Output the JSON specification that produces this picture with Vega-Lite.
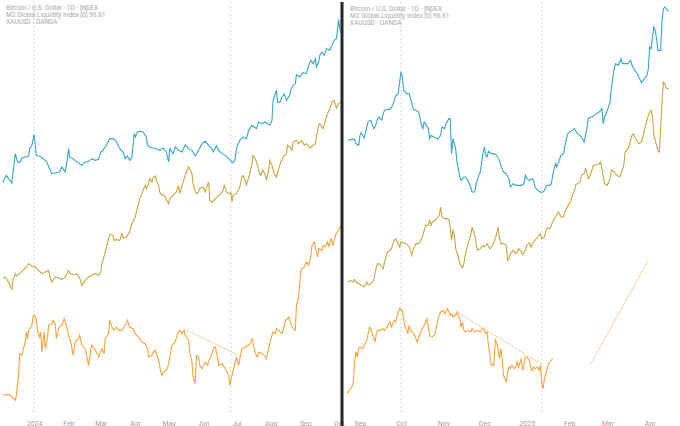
{
"$schema": "https://vega.github.io/schema/vega-lite/v6.json",
"padding": 0,
"background": "white",
"spacing": 0,
"config": {"view": {"stroke": null}, "font": "Roboto"},
"datasets": {
"leftGrid": [{"d":"2024-01-01"},{"d":"2024-06-26"}],
"rightGrid": [{"d":"2024-10-01"},{"d":"2025-01-12"}],
"leftTrend": [{"d":"2024-05-16","v":233,"d2":"2024-07-04","v2":153}],
"rightTrend": [{"d":"2024-11-11","v":285,"d2":"2025-01-12","v2":128},{"d":"2025-02-17","v":130,"d2":"2025-03-31","v2":440}],
"divider": [{"d":"2024-10-04"}],
"left": [
{"d":"2023-12-04","s":"M2","v":675},{"d":"2023-12-07","s":"M2","v":695},{"d":"2023-12-09","s":"M2","v":685},{"d":"2023-12-12","s":"M2","v":672},{"d":"2023-12-15","s":"M2","v":760},{"d":"2023-12-17","s":"M2","v":737},{"d":"2023-12-19","s":"M2","v":733},{"d":"2023-12-21","s":"M2","v":747},{"d":"2023-12-24","s":"M2","v":750},{"d":"2023-12-27","s":"M2","v":753},{"d":"2023-12-28","s":"M2","v":775},{"d":"2023-12-30","s":"M2","v":785},{"d":"2024-01-01","s":"M2","v":817},{"d":"2024-01-03","s":"M2","v":755},{"d":"2024-01-06","s":"M2","v":752},{"d":"2024-01-09","s":"M2","v":745},{"d":"2024-01-12","s":"M2","v":737},{"d":"2024-01-15","s":"M2","v":715},{"d":"2024-01-17","s":"M2","v":700},{"d":"2024-01-21","s":"M2","v":703},{"d":"2024-01-24","s":"M2","v":705},{"d":"2024-01-26","s":"M2","v":720},{"d":"2024-01-29","s":"M2","v":705},{"d":"2024-01-31","s":"M2","v":745},{"d":"2024-02-01","s":"M2","v":775},{"d":"2024-02-02","s":"M2","v":750},{"d":"2024-02-05","s":"M2","v":745},{"d":"2024-02-08","s":"M2","v":737},{"d":"2024-02-13","s":"M2","v":725},{"d":"2024-02-16","s":"M2","v":735},{"d":"2024-02-19","s":"M2","v":737},{"d":"2024-02-22","s":"M2","v":745},{"d":"2024-02-25","s":"M2","v":740},{"d":"2024-02-28","s":"M2","v":743},{"d":"2024-03-01","s":"M2","v":765},{"d":"2024-03-03","s":"M2","v":770},{"d":"2024-03-06","s":"M2","v":785},{"d":"2024-03-09","s":"M2","v":805},{"d":"2024-03-12","s":"M2","v":805},{"d":"2024-03-15","s":"M2","v":797},{"d":"2024-03-18","s":"M2","v":775},{"d":"2024-03-21","s":"M2","v":765},{"d":"2024-03-23","s":"M2","v":745},{"d":"2024-03-25","s":"M2","v":753},{"d":"2024-03-27","s":"M2","v":740},{"d":"2024-03-29","s":"M2","v":750},{"d":"2024-03-31","s":"M2","v":820},{"d":"2024-04-01","s":"M2","v":810},{"d":"2024-04-03","s":"M2","v":825},{"d":"2024-04-05","s":"M2","v":827},{"d":"2024-04-08","s":"M2","v":825},{"d":"2024-04-11","s":"M2","v":810},{"d":"2024-04-12","s":"M2","v":785},{"d":"2024-04-14","s":"M2","v":780},{"d":"2024-04-17","s":"M2","v":777},{"d":"2024-04-20","s":"M2","v":775},{"d":"2024-04-23","s":"M2","v":770},{"d":"2024-04-26","s":"M2","v":777},{"d":"2024-04-29","s":"M2","v":765},{"d":"2024-05-01","s":"M2","v":735},{"d":"2024-05-02","s":"M2","v":775},{"d":"2024-05-05","s":"M2","v":760},{"d":"2024-05-07","s":"M2","v":780},{"d":"2024-05-10","s":"M2","v":770},{"d":"2024-05-13","s":"M2","v":765},{"d":"2024-05-16","s":"M2","v":787},{"d":"2024-05-19","s":"M2","v":775},{"d":"2024-05-22","s":"M2","v":770},{"d":"2024-05-25","s":"M2","v":753},{"d":"2024-05-28","s":"M2","v":770},{"d":"2024-05-31","s":"M2","v":790},{"d":"2024-06-03","s":"M2","v":797},{"d":"2024-06-06","s":"M2","v":785},{"d":"2024-06-09","s":"M2","v":775},{"d":"2024-06-10","s":"M2","v":765},{"d":"2024-06-13","s":"M2","v":783},{"d":"2024-06-15","s":"M2","v":770},{"d":"2024-06-18","s":"M2","v":760},{"d":"2024-06-21","s":"M2","v":755},{"d":"2024-06-24","s":"M2","v":745},{"d":"2024-06-27","s":"M2","v":735},{"d":"2024-06-28","s":"M2","v":733},{"d":"2024-06-30","s":"M2","v":745},{"d":"2024-07-01","s":"M2","v":775},{"d":"2024-07-04","s":"M2","v":800},{"d":"2024-07-07","s":"M2","v":810},{"d":"2024-07-10","s":"M2","v":805},{"d":"2024-07-12","s":"M2","v":830},{"d":"2024-07-15","s":"M2","v":845},{"d":"2024-07-17","s":"M2","v":840},{"d":"2024-07-19","s":"M2","v":835},{"d":"2024-07-21","s":"M2","v":855},{"d":"2024-07-24","s":"M2","v":850},{"d":"2024-07-27","s":"M2","v":855},{"d":"2024-07-30","s":"M2","v":847},{"d":"2024-07-31","s":"M2","v":845},{"d":"2024-08-02","s":"M2","v":860},{"d":"2024-08-03","s":"M2","v":920},{"d":"2024-08-06","s":"M2","v":950},{"d":"2024-08-07","s":"M2","v":915},{"d":"2024-08-09","s":"M2","v":913},{"d":"2024-08-11","s":"M2","v":930},{"d":"2024-08-13","s":"M2","v":940},{"d":"2024-08-15","s":"M2","v":920},{"d":"2024-08-18","s":"M2","v":935},{"d":"2024-08-19","s":"M2","v":953},{"d":"2024-08-21","s":"M2","v":965},{"d":"2024-08-23","s":"M2","v":970},{"d":"2024-08-24","s":"M2","v":997},{"d":"2024-08-27","s":"M2","v":990},{"d":"2024-08-30","s":"M2","v":1003},{"d":"2024-09-02","s":"M2","v":1000},{"d":"2024-09-04","s":"M2","v":1025},{"d":"2024-09-06","s":"M2","v":1040},{"d":"2024-09-08","s":"M2","v":1030},{"d":"2024-09-10","s":"M2","v":1045},{"d":"2024-09-11","s":"M2","v":1020},{"d":"2024-09-13","s":"M2","v":1035},{"d":"2024-09-14","s":"M2","v":1055},{"d":"2024-09-16","s":"M2","v":1065},{"d":"2024-09-18","s":"M2","v":1055},{"d":"2024-09-20","s":"M2","v":1075},{"d":"2024-09-23","s":"M2","v":1070},{"d":"2024-09-25","s":"M2","v":1085},{"d":"2024-09-27","s":"M2","v":1100},{"d":"2024-09-29","s":"M2","v":1105},{"d":"2024-10-01","s":"M2","v":1163},{"d":"2024-10-02","s":"M2","v":1135},{"d":"2024-10-04","s":"M2","v":1115},
{"d":"2023-12-04","s":"XAU","v":385},{"d":"2023-12-06","s":"XAU","v":390},{"d":"2023-12-09","s":"XAU","v":375},{"d":"2023-12-12","s":"XAU","v":353},{"d":"2023-12-13","s":"XAU","v":380},{"d":"2023-12-15","s":"XAU","v":400},{"d":"2023-12-16","s":"XAU","v":393},{"d":"2023-12-19","s":"XAU","v":400},{"d":"2023-12-22","s":"XAU","v":410},{"d":"2023-12-25","s":"XAU","v":420},{"d":"2023-12-27","s":"XAU","v":430},{"d":"2023-12-30","s":"XAU","v":423},{"d":"2024-01-02","s":"XAU","v":420},{"d":"2024-01-05","s":"XAU","v":410},{"d":"2024-01-08","s":"XAU","v":400},{"d":"2024-01-11","s":"XAU","v":405},{"d":"2024-01-14","s":"XAU","v":410},{"d":"2024-01-15","s":"XAU","v":393},{"d":"2024-01-17","s":"XAU","v":375},{"d":"2024-01-20","s":"XAU","v":390},{"d":"2024-01-23","s":"XAU","v":387},{"d":"2024-01-26","s":"XAU","v":383},{"d":"2024-01-29","s":"XAU","v":390},{"d":"2024-02-01","s":"XAU","v":410},{"d":"2024-02-02","s":"XAU","v":400},{"d":"2024-02-05","s":"XAU","v":397},{"d":"2024-02-08","s":"XAU","v":400},{"d":"2024-02-11","s":"XAU","v":387},{"d":"2024-02-13","s":"XAU","v":365},{"d":"2024-02-16","s":"XAU","v":380},{"d":"2024-02-19","s":"XAU","v":390},{"d":"2024-02-22","s":"XAU","v":395},{"d":"2024-02-25","s":"XAU","v":400},{"d":"2024-02-28","s":"XAU","v":395},{"d":"2024-03-01","s":"XAU","v":405},{"d":"2024-03-02","s":"XAU","v":430},{"d":"2024-03-05","s":"XAU","v":465},{"d":"2024-03-08","s":"XAU","v":505},{"d":"2024-03-09","s":"XAU","v":518},{"d":"2024-03-12","s":"XAU","v":515},{"d":"2024-03-13","s":"XAU","v":500},{"d":"2024-03-15","s":"XAU","v":502},{"d":"2024-03-18","s":"XAU","v":500},{"d":"2024-03-20","s":"XAU","v":520},{"d":"2024-03-21","s":"XAU","v":507},{"d":"2024-03-24","s":"XAU","v":510},{"d":"2024-03-27","s":"XAU","v":525},{"d":"2024-03-29","s":"XAU","v":550},{"d":"2024-04-01","s":"XAU","v":570},{"d":"2024-04-02","s":"XAU","v":585},{"d":"2024-04-04","s":"XAU","v":610},{"d":"2024-04-05","s":"XAU","v":625},{"d":"2024-04-07","s":"XAU","v":640},{"d":"2024-04-08","s":"XAU","v":650},{"d":"2024-04-10","s":"XAU","v":665},{"d":"2024-04-11","s":"XAU","v":655},{"d":"2024-04-13","s":"XAU","v":670},{"d":"2024-04-14","s":"XAU","v":685},{"d":"2024-04-16","s":"XAU","v":675},{"d":"2024-04-17","s":"XAU","v":687},{"d":"2024-04-19","s":"XAU","v":693},{"d":"2024-04-20","s":"XAU","v":680},{"d":"2024-04-22","s":"XAU","v":665},{"d":"2024-04-23","s":"XAU","v":645},{"d":"2024-04-25","s":"XAU","v":635},{"d":"2024-04-26","s":"XAU","v":637},{"d":"2024-04-28","s":"XAU","v":630},{"d":"2024-04-29","s":"XAU","v":620},{"d":"2024-05-01","s":"XAU","v":610},{"d":"2024-05-02","s":"XAU","v":625},{"d":"2024-05-05","s":"XAU","v":635},{"d":"2024-05-08","s":"XAU","v":645},{"d":"2024-05-10","s":"XAU","v":665},{"d":"2024-05-11","s":"XAU","v":640},{"d":"2024-05-14","s":"XAU","v":675},{"d":"2024-05-17","s":"XAU","v":705},{"d":"2024-05-19","s":"XAU","v":720},{"d":"2024-05-20","s":"XAU","v":715},{"d":"2024-05-22","s":"XAU","v":700},{"d":"2024-05-23","s":"XAU","v":670},{"d":"2024-05-25","s":"XAU","v":645},{"d":"2024-05-27","s":"XAU","v":640},{"d":"2024-05-29","s":"XAU","v":655},{"d":"2024-06-01","s":"XAU","v":660},{"d":"2024-06-03","s":"XAU","v":645},{"d":"2024-06-05","s":"XAU","v":667},{"d":"2024-06-06","s":"XAU","v":675},{"d":"2024-06-07","s":"XAU","v":620},{"d":"2024-06-09","s":"XAU","v":613},{"d":"2024-06-12","s":"XAU","v":625},{"d":"2024-06-15","s":"XAU","v":635},{"d":"2024-06-18","s":"XAU","v":643},{"d":"2024-06-19","s":"XAU","v":650},{"d":"2024-06-20","s":"XAU","v":665},{"d":"2024-06-22","s":"XAU","v":645},{"d":"2024-06-24","s":"XAU","v":640},{"d":"2024-06-26","s":"XAU","v":643},{"d":"2024-06-27","s":"XAU","v":615},{"d":"2024-06-28","s":"XAU","v":635},{"d":"2024-07-01","s":"XAU","v":640},{"d":"2024-07-04","s":"XAU","v":660},{"d":"2024-07-06","s":"XAU","v":690},{"d":"2024-07-07","s":"XAU","v":695},{"d":"2024-07-09","s":"XAU","v":680},{"d":"2024-07-10","s":"XAU","v":665},{"d":"2024-07-13","s":"XAU","v":700},{"d":"2024-07-14","s":"XAU","v":715},{"d":"2024-07-15","s":"XAU","v":730},{"d":"2024-07-16","s":"XAU","v":755},{"d":"2024-07-18","s":"XAU","v":745},{"d":"2024-07-20","s":"XAU","v":725},{"d":"2024-07-22","s":"XAU","v":700},{"d":"2024-07-23","s":"XAU","v":695},{"d":"2024-07-25","s":"XAU","v":710},{"d":"2024-07-27","s":"XAU","v":695},{"d":"2024-07-28","s":"XAU","v":680},{"d":"2024-07-30","s":"XAU","v":710},{"d":"2024-07-31","s":"XAU","v":740},{"d":"2024-08-02","s":"XAU","v":725},{"d":"2024-08-04","s":"XAU","v":700},{"d":"2024-08-06","s":"XAU","v":690},{"d":"2024-08-08","s":"XAU","v":715},{"d":"2024-08-10","s":"XAU","v":735},{"d":"2024-08-12","s":"XAU","v":750},{"d":"2024-08-15","s":"XAU","v":760},{"d":"2024-08-16","s":"XAU","v":785},{"d":"2024-08-18","s":"XAU","v":780},{"d":"2024-08-20","s":"XAU","v":770},{"d":"2024-08-21","s":"XAU","v":795},{"d":"2024-08-24","s":"XAU","v":800},{"d":"2024-08-26","s":"XAU","v":790},{"d":"2024-08-29","s":"XAU","v":800},{"d":"2024-08-31","s":"XAU","v":785},{"d":"2024-09-02","s":"XAU","v":790},{"d":"2024-09-05","s":"XAU","v":777},{"d":"2024-09-07","s":"XAU","v":783},{"d":"2024-09-10","s":"XAU","v":790},{"d":"2024-09-11","s":"XAU","v":810},{"d":"2024-09-13","s":"XAU","v":845},{"d":"2024-09-14","s":"XAU","v":850},{"d":"2024-09-17","s":"XAU","v":835},{"d":"2024-09-19","s":"XAU","v":860},{"d":"2024-09-21","s":"XAU","v":880},{"d":"2024-09-23","s":"XAU","v":895},{"d":"2024-09-25","s":"XAU","v":915},{"d":"2024-09-27","s":"XAU","v":920},{"d":"2024-09-29","s":"XAU","v":897},{"d":"2024-10-01","s":"XAU","v":910},{"d":"2024-10-03","s":"XAU","v":915},
{"d":"2023-12-04","s":"BTC","v":35},{"d":"2023-12-07","s":"BTC","v":37},{"d":"2023-12-10","s":"BTC","v":37},{"d":"2023-12-12","s":"BTC","v":30},{"d":"2023-12-15","s":"BTC","v":20},{"d":"2023-12-16","s":"BTC","v":35},{"d":"2023-12-18","s":"BTC","v":95},{"d":"2023-12-19","s":"BTC","v":160},{"d":"2023-12-21","s":"BTC","v":155},{"d":"2023-12-22","s":"BTC","v":170},{"d":"2023-12-24","s":"BTC","v":195},{"d":"2023-12-25","s":"BTC","v":225},{"d":"2023-12-26","s":"BTC","v":205},{"d":"2023-12-27","s":"BTC","v":230},{"d":"2023-12-30","s":"BTC","v":245},{"d":"2023-12-31","s":"BTC","v":270},{"d":"2024-01-01","s":"BTC","v":275},{"d":"2024-01-03","s":"BTC","v":265},{"d":"2024-01-04","s":"BTC","v":230},{"d":"2024-01-06","s":"BTC","v":210},{"d":"2024-01-07","s":"BTC","v":225},{"d":"2024-01-08","s":"BTC","v":165},{"d":"2024-01-10","s":"BTC","v":225},{"d":"2024-01-11","s":"BTC","v":175},{"d":"2024-01-13","s":"BTC","v":205},{"d":"2024-01-14","s":"BTC","v":245},{"d":"2024-01-17","s":"BTC","v":250},{"d":"2024-01-18","s":"BTC","v":260},{"d":"2024-01-20","s":"BTC","v":250},{"d":"2024-01-21","s":"BTC","v":205},{"d":"2024-01-23","s":"BTC","v":235},{"d":"2024-01-24","s":"BTC","v":240},{"d":"2024-01-26","s":"BTC","v":245},{"d":"2024-01-28","s":"BTC","v":265},{"d":"2024-01-30","s":"BTC","v":245},{"d":"2024-02-01","s":"BTC","v":215},{"d":"2024-02-03","s":"BTC","v":195},{"d":"2024-02-05","s":"BTC","v":155},{"d":"2024-02-07","s":"BTC","v":195},{"d":"2024-02-10","s":"BTC","v":205},{"d":"2024-02-11","s":"BTC","v":215},{"d":"2024-02-13","s":"BTC","v":185},{"d":"2024-02-16","s":"BTC","v":175},{"d":"2024-02-19","s":"BTC","v":125},{"d":"2024-02-21","s":"BTC","v":175},{"d":"2024-02-22","s":"BTC","v":185},{"d":"2024-02-25","s":"BTC","v":170},{"d":"2024-02-27","s":"BTC","v":160},{"d":"2024-02-28","s":"BTC","v":150},{"d":"2024-03-02","s":"BTC","v":175},{"d":"2024-03-04","s":"BTC","v":160},{"d":"2024-03-05","s":"BTC","v":205},{"d":"2024-03-08","s":"BTC","v":220},{"d":"2024-03-09","s":"BTC","v":260},{"d":"2024-03-11","s":"BTC","v":240},{"d":"2024-03-13","s":"BTC","v":230},{"d":"2024-03-15","s":"BTC","v":240},{"d":"2024-03-17","s":"BTC","v":230},{"d":"2024-03-20","s":"BTC","v":230},{"d":"2024-03-23","s":"BTC","v":245},{"d":"2024-03-25","s":"BTC","v":260},{"d":"2024-03-27","s":"BTC","v":240},{"d":"2024-03-30","s":"BTC","v":235},{"d":"2024-04-01","s":"BTC","v":220},{"d":"2024-04-04","s":"BTC","v":210},{"d":"2024-04-07","s":"BTC","v":195},{"d":"2024-04-10","s":"BTC","v":190},{"d":"2024-04-12","s":"BTC","v":175},{"d":"2024-04-13","s":"BTC","v":150},{"d":"2024-04-16","s":"BTC","v":155},{"d":"2024-04-18","s":"BTC","v":170},{"d":"2024-04-19","s":"BTC","v":170},{"d":"2024-04-22","s":"BTC","v":140},{"d":"2024-04-24","s":"BTC","v":105},{"d":"2024-04-25","s":"BTC","v":95},{"d":"2024-04-28","s":"BTC","v":110},{"d":"2024-04-30","s":"BTC","v":115},{"d":"2024-05-02","s":"BTC","v":150},{"d":"2024-05-04","s":"BTC","v":185},{"d":"2024-05-07","s":"BTC","v":195},{"d":"2024-05-09","s":"BTC","v":220},{"d":"2024-05-11","s":"BTC","v":230},{"d":"2024-05-13","s":"BTC","v":220},{"d":"2024-05-15","s":"BTC","v":230},{"d":"2024-05-16","s":"BTC","v":215},{"d":"2024-05-19","s":"BTC","v":200},{"d":"2024-05-20","s":"BTC","v":165},{"d":"2024-05-22","s":"BTC","v":135},{"d":"2024-05-23","s":"BTC","v":90},{"d":"2024-05-25","s":"BTC","v":70},{"d":"2024-05-26","s":"BTC","v":155},{"d":"2024-05-28","s":"BTC","v":150},{"d":"2024-05-29","s":"BTC","v":125},{"d":"2024-05-31","s":"BTC","v":115},{"d":"2024-06-03","s":"BTC","v":135},{"d":"2024-06-05","s":"BTC","v":125},{"d":"2024-06-06","s":"BTC","v":135},{"d":"2024-06-09","s":"BTC","v":160},{"d":"2024-06-11","s":"BTC","v":180},{"d":"2024-06-12","s":"BTC","v":180},{"d":"2024-06-14","s":"BTC","v":150},{"d":"2024-06-15","s":"BTC","v":125},{"d":"2024-06-18","s":"BTC","v":130},{"d":"2024-06-19","s":"BTC","v":125},{"d":"2024-06-21","s":"BTC","v":115},{"d":"2024-06-24","s":"BTC","v":95},{"d":"2024-06-25","s":"BTC","v":65},{"d":"2024-06-27","s":"BTC","v":95},{"d":"2024-06-30","s":"BTC","v":135},{"d":"2024-07-01","s":"BTC","v":150},{"d":"2024-07-03","s":"BTC","v":125},{"d":"2024-07-05","s":"BTC","v":160},{"d":"2024-07-06","s":"BTC","v":175},{"d":"2024-07-09","s":"BTC","v":180},{"d":"2024-07-12","s":"BTC","v":185},{"d":"2024-07-14","s":"BTC","v":195},{"d":"2024-07-15","s":"BTC","v":205},{"d":"2024-07-18","s":"BTC","v":160},{"d":"2024-07-20","s":"BTC","v":150},{"d":"2024-07-21","s":"BTC","v":165},{"d":"2024-07-24","s":"BTC","v":160},{"d":"2024-07-26","s":"BTC","v":155},{"d":"2024-07-28","s":"BTC","v":145},{"d":"2024-07-30","s":"BTC","v":175},{"d":"2024-08-01","s":"BTC","v":205},{"d":"2024-08-03","s":"BTC","v":225},{"d":"2024-08-05","s":"BTC","v":220},{"d":"2024-08-06","s":"BTC","v":235},{"d":"2024-08-08","s":"BTC","v":230},{"d":"2024-08-11","s":"BTC","v":220},{"d":"2024-08-13","s":"BTC","v":240},{"d":"2024-08-14","s":"BTC","v":260},{"d":"2024-08-17","s":"BTC","v":270},{"d":"2024-08-19","s":"BTC","v":250},{"d":"2024-08-21","s":"BTC","v":235},{"d":"2024-08-23","s":"BTC","v":230},{"d":"2024-08-24","s":"BTC","v":305},{"d":"2024-08-26","s":"BTC","v":330},{"d":"2024-08-28","s":"BTC","v":410},{"d":"2024-08-29","s":"BTC","v":415},{"d":"2024-08-31","s":"BTC","v":420},{"d":"2024-09-02","s":"BTC","v":435},{"d":"2024-09-04","s":"BTC","v":425},{"d":"2024-09-06","s":"BTC","v":455},{"d":"2024-09-07","s":"BTC","v":485},{"d":"2024-09-09","s":"BTC","v":495},{"d":"2024-09-10","s":"BTC","v":480},{"d":"2024-09-12","s":"BTC","v":450},{"d":"2024-09-13","s":"BTC","v":475},{"d":"2024-09-16","s":"BTC","v":470},{"d":"2024-09-17","s":"BTC","v":485},{"d":"2024-09-19","s":"BTC","v":480},{"d":"2024-09-21","s":"BTC","v":495},{"d":"2024-09-22","s":"BTC","v":480},{"d":"2024-09-24","s":"BTC","v":505},{"d":"2024-09-26","s":"BTC","v":485},{"d":"2024-09-28","s":"BTC","v":515},{"d":"2024-10-01","s":"BTC","v":530},{"d":"2024-10-03","s":"BTC","v":545}
],
"right": [
{"d":"2024-08-23","s":"M2","v":800},{"d":"2024-08-26","s":"M2","v":803},{"d":"2024-08-28","s":"M2","v":803},{"d":"2024-08-29","s":"M2","v":790},{"d":"2024-08-31","s":"M2","v":785},{"d":"2024-09-01","s":"M2","v":815},{"d":"2024-09-02","s":"M2","v":823},{"d":"2024-09-04","s":"M2","v":807},{"d":"2024-09-06","s":"M2","v":840},{"d":"2024-09-07","s":"M2","v":857},{"d":"2024-09-09","s":"M2","v":860},{"d":"2024-09-11","s":"M2","v":835},{"d":"2024-09-12","s":"M2","v":840},{"d":"2024-09-14","s":"M2","v":865},{"d":"2024-09-15","s":"M2","v":870},{"d":"2024-09-17","s":"M2","v":860},{"d":"2024-09-18","s":"M2","v":880},{"d":"2024-09-19","s":"M2","v":890},{"d":"2024-09-21","s":"M2","v":893},{"d":"2024-09-23","s":"M2","v":893},{"d":"2024-09-25","s":"M2","v":905},{"d":"2024-09-26","s":"M2","v":920},{"d":"2024-09-27","s":"M2","v":933},{"d":"2024-09-29","s":"M2","v":940},{"d":"2024-09-30","s":"M2","v":975},{"d":"2024-10-01","s":"M2","v":1005},{"d":"2024-10-02","s":"M2","v":990},{"d":"2024-10-03","s":"M2","v":950},{"d":"2024-10-04","s":"M2","v":945},{"d":"2024-10-05","s":"M2","v":940},{"d":"2024-10-07","s":"M2","v":940},{"d":"2024-10-08","s":"M2","v":925},{"d":"2024-10-10","s":"M2","v":893},{"d":"2024-10-12","s":"M2","v":890},{"d":"2024-10-14","s":"M2","v":885},{"d":"2024-10-16","s":"M2","v":845},{"d":"2024-10-17","s":"M2","v":835},{"d":"2024-10-18","s":"M2","v":855},{"d":"2024-10-19","s":"M2","v":850},{"d":"2024-10-21","s":"M2","v":835},{"d":"2024-10-22","s":"M2","v":805},{"d":"2024-10-23","s":"M2","v":815},{"d":"2024-10-25","s":"M2","v":810},{"d":"2024-10-27","s":"M2","v":807},{"d":"2024-10-28","s":"M2","v":803},{"d":"2024-10-30","s":"M2","v":815},{"d":"2024-10-31","s":"M2","v":840},{"d":"2024-11-02","s":"M2","v":835},{"d":"2024-11-03","s":"M2","v":850},{"d":"2024-11-05","s":"M2","v":865},{"d":"2024-11-06","s":"M2","v":865},{"d":"2024-11-07","s":"M2","v":760},{"d":"2024-11-08","s":"M2","v":805},{"d":"2024-11-09","s":"M2","v":790},{"d":"2024-11-10","s":"M2","v":775},{"d":"2024-11-11","s":"M2","v":735},{"d":"2024-11-13","s":"M2","v":690},{"d":"2024-11-14","s":"M2","v":680},{"d":"2024-11-16","s":"M2","v":690},{"d":"2024-11-17","s":"M2","v":690},{"d":"2024-11-19","s":"M2","v":680},{"d":"2024-11-21","s":"M2","v":660},{"d":"2024-11-22","s":"M2","v":645},{"d":"2024-11-24","s":"M2","v":645},{"d":"2024-11-25","s":"M2","v":670},{"d":"2024-11-27","s":"M2","v":695},{"d":"2024-11-28","s":"M2","v":705},{"d":"2024-11-30","s":"M2","v":760},{"d":"2024-12-01","s":"M2","v":780},{"d":"2024-12-02","s":"M2","v":755},{"d":"2024-12-03","s":"M2","v":750},{"d":"2024-12-04","s":"M2","v":767},{"d":"2024-12-06","s":"M2","v":760},{"d":"2024-12-08","s":"M2","v":760},{"d":"2024-12-10","s":"M2","v":755},{"d":"2024-12-12","s":"M2","v":740},{"d":"2024-12-13","s":"M2","v":725},{"d":"2024-12-15","s":"M2","v":705},{"d":"2024-12-17","s":"M2","v":700},{"d":"2024-12-19","s":"M2","v":685},{"d":"2024-12-20","s":"M2","v":660},{"d":"2024-12-22","s":"M2","v":670},{"d":"2024-12-24","s":"M2","v":665},{"d":"2024-12-26","s":"M2","v":665},{"d":"2024-12-28","s":"M2","v":665},{"d":"2024-12-30","s":"M2","v":670},{"d":"2024-12-31","s":"M2","v":695},{"d":"2025-01-01","s":"M2","v":685},{"d":"2025-01-03","s":"M2","v":680},{"d":"2025-01-05","s":"M2","v":685},{"d":"2025-01-06","s":"M2","v":680},{"d":"2025-01-07","s":"M2","v":660},{"d":"2025-01-09","s":"M2","v":650},{"d":"2025-01-11","s":"M2","v":645},{"d":"2025-01-12","s":"M2","v":643},{"d":"2025-01-14","s":"M2","v":650},{"d":"2025-01-15","s":"M2","v":660},{"d":"2025-01-16","s":"M2","v":665},{"d":"2025-01-18","s":"M2","v":665},{"d":"2025-01-19","s":"M2","v":670},{"d":"2025-01-20","s":"M2","v":695},{"d":"2025-01-22","s":"M2","v":730},{"d":"2025-01-23","s":"M2","v":720},{"d":"2025-01-24","s":"M2","v":730},{"d":"2025-01-26","s":"M2","v":755},{"d":"2025-01-28","s":"M2","v":760},{"d":"2025-01-29","s":"M2","v":785},{"d":"2025-01-31","s":"M2","v":820},{"d":"2025-02-01","s":"M2","v":823},{"d":"2025-02-03","s":"M2","v":830},{"d":"2025-02-05","s":"M2","v":835},{"d":"2025-02-07","s":"M2","v":820},{"d":"2025-02-09","s":"M2","v":815},{"d":"2025-02-12","s":"M2","v":795},{"d":"2025-02-14","s":"M2","v":835},{"d":"2025-02-15","s":"M2","v":865},{"d":"2025-02-17","s":"M2","v":870},{"d":"2025-02-18","s":"M2","v":870},{"d":"2025-02-21","s":"M2","v":880},{"d":"2025-02-23","s":"M2","v":885},{"d":"2025-02-25","s":"M2","v":895},{"d":"2025-02-26","s":"M2","v":850},{"d":"2025-02-27","s":"M2","v":870},{"d":"2025-03-01","s":"M2","v":890},{"d":"2025-03-03","s":"M2","v":915},{"d":"2025-03-04","s":"M2","v":960},{"d":"2025-03-06","s":"M2","v":1015},{"d":"2025-03-07","s":"M2","v":1030},{"d":"2025-03-09","s":"M2","v":1025},{"d":"2025-03-11","s":"M2","v":1045},{"d":"2025-03-12","s":"M2","v":1030},{"d":"2025-03-14","s":"M2","v":1030},{"d":"2025-03-16","s":"M2","v":1030},{"d":"2025-03-18","s":"M2","v":1040},{"d":"2025-03-19","s":"M2","v":1025},{"d":"2025-03-21","s":"M2","v":1010},{"d":"2025-03-23","s":"M2","v":1000},{"d":"2025-03-24","s":"M2","v":990},{"d":"2025-03-26","s":"M2","v":973},{"d":"2025-03-28","s":"M2","v":985},{"d":"2025-03-30","s":"M2","v":995},{"d":"2025-03-31","s":"M2","v":1015},{"d":"2025-04-01","s":"M2","v":1080},{"d":"2025-04-02","s":"M2","v":1075},{"d":"2025-04-03","s":"M2","v":1110},{"d":"2025-04-04","s":"M2","v":1140},{"d":"2025-04-05","s":"M2","v":1130},{"d":"2025-04-06","s":"M2","v":1105},{"d":"2025-04-07","s":"M2","v":1070},{"d":"2025-04-09","s":"M2","v":1070},{"d":"2025-04-10","s":"M2","v":1160},{"d":"2025-04-11","s":"M2","v":1195},{"d":"2025-04-12","s":"M2","v":1200},{"d":"2025-04-13","s":"M2","v":1195},{"d":"2025-04-15","s":"M2","v":1187},
{"d":"2024-08-23","s":"XAU","v":375},{"d":"2024-08-25","s":"XAU","v":380},{"d":"2024-08-27","s":"XAU","v":375},{"d":"2024-08-28","s":"XAU","v":383},{"d":"2024-08-29","s":"XAU","v":375},{"d":"2024-08-31","s":"XAU","v":370},{"d":"2024-09-02","s":"XAU","v":365},{"d":"2024-09-04","s":"XAU","v":360},{"d":"2024-09-06","s":"XAU","v":375},{"d":"2024-09-07","s":"XAU","v":367},{"d":"2024-09-09","s":"XAU","v":370},{"d":"2024-09-11","s":"XAU","v":380},{"d":"2024-09-13","s":"XAU","v":420},{"d":"2024-09-14","s":"XAU","v":430},{"d":"2024-09-15","s":"XAU","v":430},{"d":"2024-09-17","s":"XAU","v":420},{"d":"2024-09-18","s":"XAU","v":415},{"d":"2024-09-19","s":"XAU","v":435},{"d":"2024-09-21","s":"XAU","v":465},{"d":"2024-09-23","s":"XAU","v":470},{"d":"2024-09-24","s":"XAU","v":475},{"d":"2024-09-26","s":"XAU","v":500},{"d":"2024-09-27","s":"XAU","v":505},{"d":"2024-09-29","s":"XAU","v":490},{"d":"2024-09-30","s":"XAU","v":480},{"d":"2024-10-01","s":"XAU","v":495},{"d":"2024-10-03","s":"XAU","v":493},{"d":"2024-10-05","s":"XAU","v":490},{"d":"2024-10-07","s":"XAU","v":480},{"d":"2024-10-09","s":"XAU","v":455},{"d":"2024-10-10","s":"XAU","v":475},{"d":"2024-10-12","s":"XAU","v":490},{"d":"2024-10-14","s":"XAU","v":490},{"d":"2024-10-15","s":"XAU","v":495},{"d":"2024-10-17","s":"XAU","v":515},{"d":"2024-10-19","s":"XAU","v":545},{"d":"2024-10-21","s":"XAU","v":545},{"d":"2024-10-22","s":"XAU","v":560},{"d":"2024-10-23","s":"XAU","v":545},{"d":"2024-10-24","s":"XAU","v":555},{"d":"2024-10-26","s":"XAU","v":560},{"d":"2024-10-28","s":"XAU","v":570},{"d":"2024-10-29","s":"XAU","v":575},{"d":"2024-10-30","s":"XAU","v":600},{"d":"2024-10-31","s":"XAU","v":570},{"d":"2024-11-02","s":"XAU","v":565},{"d":"2024-11-04","s":"XAU","v":565},{"d":"2024-11-05","s":"XAU","v":563},{"d":"2024-11-06","s":"XAU","v":540},{"d":"2024-11-07","s":"XAU","v":500},{"d":"2024-11-08","s":"XAU","v":530},{"d":"2024-11-09","s":"XAU","v":520},{"d":"2024-11-10","s":"XAU","v":475},{"d":"2024-11-12","s":"XAU","v":450},{"d":"2024-11-13","s":"XAU","v":430},{"d":"2024-11-15","s":"XAU","v":418},{"d":"2024-11-16","s":"XAU","v":430},{"d":"2024-11-17","s":"XAU","v":455},{"d":"2024-11-19","s":"XAU","v":490},{"d":"2024-11-21","s":"XAU","v":515},{"d":"2024-11-22","s":"XAU","v":540},{"d":"2024-11-24","s":"XAU","v":515},{"d":"2024-11-25","s":"XAU","v":490},{"d":"2024-11-26","s":"XAU","v":470},{"d":"2024-11-28","s":"XAU","v":475},{"d":"2024-11-30","s":"XAU","v":485},{"d":"2024-12-01","s":"XAU","v":480},{"d":"2024-12-03","s":"XAU","v":490},{"d":"2024-12-05","s":"XAU","v":475},{"d":"2024-12-07","s":"XAU","v":485},{"d":"2024-12-09","s":"XAU","v":505},{"d":"2024-12-10","s":"XAU","v":520},{"d":"2024-12-11","s":"XAU","v":540},{"d":"2024-12-12","s":"XAU","v":510},{"d":"2024-12-13","s":"XAU","v":490},{"d":"2024-12-15","s":"XAU","v":490},{"d":"2024-12-17","s":"XAU","v":485},{"d":"2024-12-18","s":"XAU","v":440},{"d":"2024-12-19","s":"XAU","v":445},{"d":"2024-12-20","s":"XAU","v":460},{"d":"2024-12-22","s":"XAU","v":470},{"d":"2024-12-24","s":"XAU","v":460},{"d":"2024-12-25","s":"XAU","v":465},{"d":"2024-12-26","s":"XAU","v":475},{"d":"2024-12-28","s":"XAU","v":467},{"d":"2024-12-29","s":"XAU","v":457},{"d":"2024-12-31","s":"XAU","v":470},{"d":"2025-01-01","s":"XAU","v":485},{"d":"2025-01-03","s":"XAU","v":493},{"d":"2025-01-04","s":"XAU","v":480},{"d":"2025-01-06","s":"XAU","v":495},{"d":"2025-01-07","s":"XAU","v":500},{"d":"2025-01-09","s":"XAU","v":510},{"d":"2025-01-11","s":"XAU","v":520},{"d":"2025-01-12","s":"XAU","v":505},{"d":"2025-01-14","s":"XAU","v":510},{"d":"2025-01-15","s":"XAU","v":530},{"d":"2025-01-16","s":"XAU","v":537},{"d":"2025-01-18","s":"XAU","v":535},{"d":"2025-01-19","s":"XAU","v":545},{"d":"2025-01-20","s":"XAU","v":555},{"d":"2025-01-22","s":"XAU","v":570},{"d":"2025-01-24","s":"XAU","v":585},{"d":"2025-01-25","s":"XAU","v":580},{"d":"2025-01-26","s":"XAU","v":570},{"d":"2025-01-28","s":"XAU","v":570},{"d":"2025-01-29","s":"XAU","v":585},{"d":"2025-01-30","s":"XAU","v":595},{"d":"2025-02-01","s":"XAU","v":610},{"d":"2025-02-02","s":"XAU","v":615},{"d":"2025-02-03","s":"XAU","v":630},{"d":"2025-02-05","s":"XAU","v":650},{"d":"2025-02-06","s":"XAU","v":667},{"d":"2025-02-07","s":"XAU","v":670},{"d":"2025-02-09","s":"XAU","v":675},{"d":"2025-02-10","s":"XAU","v":695},{"d":"2025-02-12","s":"XAU","v":700},{"d":"2025-02-13","s":"XAU","v":715},{"d":"2025-02-14","s":"XAU","v":705},{"d":"2025-02-15","s":"XAU","v":685},{"d":"2025-02-16","s":"XAU","v":690},{"d":"2025-02-18","s":"XAU","v":715},{"d":"2025-02-19","s":"XAU","v":725},{"d":"2025-02-21","s":"XAU","v":727},{"d":"2025-02-23","s":"XAU","v":730},{"d":"2025-02-24","s":"XAU","v":735},{"d":"2025-02-25","s":"XAU","v":715},{"d":"2025-02-26","s":"XAU","v":690},{"d":"2025-02-27","s":"XAU","v":670},{"d":"2025-03-01","s":"XAU","v":665},{"d":"2025-03-03","s":"XAU","v":685},{"d":"2025-03-04","s":"XAU","v":710},{"d":"2025-03-06","s":"XAU","v":705},{"d":"2025-03-08","s":"XAU","v":695},{"d":"2025-03-10","s":"XAU","v":690},{"d":"2025-03-12","s":"XAU","v":710},{"d":"2025-03-13","s":"XAU","v":725},{"d":"2025-03-14","s":"XAU","v":765},{"d":"2025-03-16","s":"XAU","v":775},{"d":"2025-03-17","s":"XAU","v":785},{"d":"2025-03-19","s":"XAU","v":815},{"d":"2025-03-20","s":"XAU","v":820},{"d":"2025-03-21","s":"XAU","v":810},{"d":"2025-03-23","s":"XAU","v":795},{"d":"2025-03-24","s":"XAU","v":790},{"d":"2025-03-26","s":"XAU","v":795},{"d":"2025-03-27","s":"XAU","v":810},{"d":"2025-03-29","s":"XAU","v":845},{"d":"2025-03-30","s":"XAU","v":860},{"d":"2025-03-31","s":"XAU","v":875},{"d":"2025-04-01","s":"XAU","v":885},{"d":"2025-04-02","s":"XAU","v":890},{"d":"2025-04-03","s":"XAU","v":870},{"d":"2025-04-04","s":"XAU","v":815},{"d":"2025-04-06","s":"XAU","v":785},{"d":"2025-04-07","s":"XAU","v":770},{"d":"2025-04-08","s":"XAU","v":765},{"d":"2025-04-09","s":"XAU","v":835},{"d":"2025-04-10","s":"XAU","v":915},{"d":"2025-04-11","s":"XAU","v":975},{"d":"2025-04-12","s":"XAU","v":970},{"d":"2025-04-13","s":"XAU","v":957},{"d":"2025-04-15","s":"XAU","v":953},
{"d":"2024-08-23","s":"BTC","v":40},{"d":"2024-08-24","s":"BTC","v":50},{"d":"2024-08-26","s":"BTC","v":60},{"d":"2024-08-27","s":"BTC","v":70},{"d":"2024-08-28","s":"BTC","v":135},{"d":"2024-08-29","s":"BTC","v":165},{"d":"2024-08-30","s":"BTC","v":150},{"d":"2024-08-31","s":"BTC","v":175},{"d":"2024-09-01","s":"BTC","v":180},{"d":"2024-09-03","s":"BTC","v":175},{"d":"2024-09-04","s":"BTC","v":185},{"d":"2024-09-06","s":"BTC","v":200},{"d":"2024-09-07","s":"BTC","v":220},{"d":"2024-09-08","s":"BTC","v":240},{"d":"2024-09-09","s":"BTC","v":235},{"d":"2024-09-10","s":"BTC","v":220},{"d":"2024-09-12","s":"BTC","v":195},{"d":"2024-09-13","s":"BTC","v":220},{"d":"2024-09-14","s":"BTC","v":230},{"d":"2024-09-16","s":"BTC","v":230},{"d":"2024-09-18","s":"BTC","v":235},{"d":"2024-09-19","s":"BTC","v":230},{"d":"2024-09-21","s":"BTC","v":240},{"d":"2024-09-22","s":"BTC","v":250},{"d":"2024-09-23","s":"BTC","v":255},{"d":"2024-09-24","s":"BTC","v":240},{"d":"2024-09-26","s":"BTC","v":260},{"d":"2024-09-27","s":"BTC","v":255},{"d":"2024-09-28","s":"BTC","v":270},{"d":"2024-09-29","s":"BTC","v":285},{"d":"2024-09-30","s":"BTC","v":295},{"d":"2024-10-02","s":"BTC","v":290},{"d":"2024-10-03","s":"BTC","v":260},{"d":"2024-10-04","s":"BTC","v":240},{"d":"2024-10-05","s":"BTC","v":235},{"d":"2024-10-06","s":"BTC","v":220},{"d":"2024-10-07","s":"BTC","v":245},{"d":"2024-10-08","s":"BTC","v":230},{"d":"2024-10-10","s":"BTC","v":220},{"d":"2024-10-11","s":"BTC","v":215},{"d":"2024-10-12","s":"BTC","v":205},{"d":"2024-10-13","s":"BTC","v":195},{"d":"2024-10-14","s":"BTC","v":210},{"d":"2024-10-16","s":"BTC","v":230},{"d":"2024-10-17","s":"BTC","v":240},{"d":"2024-10-18","s":"BTC","v":245},{"d":"2024-10-20","s":"BTC","v":265},{"d":"2024-10-21","s":"BTC","v":240},{"d":"2024-10-22","s":"BTC","v":215},{"d":"2024-10-23","s":"BTC","v":210},{"d":"2024-10-24","s":"BTC","v":210},{"d":"2024-10-26","s":"BTC","v":220},{"d":"2024-10-27","s":"BTC","v":245},{"d":"2024-10-29","s":"BTC","v":275},{"d":"2024-10-30","s":"BTC","v":285},{"d":"2024-11-01","s":"BTC","v":290},{"d":"2024-11-02","s":"BTC","v":280},{"d":"2024-11-04","s":"BTC","v":295},{"d":"2024-11-05","s":"BTC","v":285},{"d":"2024-11-06","s":"BTC","v":275},{"d":"2024-11-07","s":"BTC","v":280},{"d":"2024-11-08","s":"BTC","v":270},{"d":"2024-11-10","s":"BTC","v":275},{"d":"2024-11-11","s":"BTC","v":285},{"d":"2024-11-13","s":"BTC","v":265},{"d":"2024-11-14","s":"BTC","v":240},{"d":"2024-11-15","s":"BTC","v":255},{"d":"2024-11-16","s":"BTC","v":230},{"d":"2024-11-17","s":"BTC","v":225},{"d":"2024-11-19","s":"BTC","v":230},{"d":"2024-11-21","s":"BTC","v":225},{"d":"2024-11-22","s":"BTC","v":235},{"d":"2024-11-24","s":"BTC","v":225},{"d":"2024-11-26","s":"BTC","v":230},{"d":"2024-11-28","s":"BTC","v":225},{"d":"2024-11-30","s":"BTC","v":237},{"d":"2024-12-01","s":"BTC","v":230},{"d":"2024-12-02","s":"BTC","v":220},{"d":"2024-12-03","s":"BTC","v":225},{"d":"2024-12-04","s":"BTC","v":185},{"d":"2024-12-06","s":"BTC","v":125},{"d":"2024-12-07","s":"BTC","v":127},{"d":"2024-12-08","s":"BTC","v":125},{"d":"2024-12-09","s":"BTC","v":205},{"d":"2024-12-11","s":"BTC","v":175},{"d":"2024-12-12","s":"BTC","v":145},{"d":"2024-12-13","s":"BTC","v":175},{"d":"2024-12-14","s":"BTC","v":145},{"d":"2024-12-15","s":"BTC","v":95},{"d":"2024-12-17","s":"BTC","v":75},{"d":"2024-12-18","s":"BTC","v":105},{"d":"2024-12-19","s":"BTC","v":120},{"d":"2024-12-20","s":"BTC","v":115},{"d":"2024-12-21","s":"BTC","v":125},{"d":"2024-12-23","s":"BTC","v":115},{"d":"2024-12-24","s":"BTC","v":120},{"d":"2024-12-25","s":"BTC","v":135},{"d":"2024-12-26","s":"BTC","v":120},{"d":"2024-12-28","s":"BTC","v":145},{"d":"2024-12-29","s":"BTC","v":110},{"d":"2024-12-30","s":"BTC","v":125},{"d":"2024-12-31","s":"BTC","v":150},{"d":"2025-01-01","s":"BTC","v":150},{"d":"2025-01-03","s":"BTC","v":140},{"d":"2025-01-04","s":"BTC","v":115},{"d":"2025-01-05","s":"BTC","v":110},{"d":"2025-01-06","s":"BTC","v":120},{"d":"2025-01-07","s":"BTC","v":115},{"d":"2025-01-09","s":"BTC","v":120},{"d":"2025-01-10","s":"BTC","v":110},{"d":"2025-01-11","s":"BTC","v":125},{"d":"2025-01-12","s":"BTC","v":70},{"d":"2025-01-13","s":"BTC","v":55},{"d":"2025-01-14","s":"BTC","v":85},{"d":"2025-01-15","s":"BTC","v":100},{"d":"2025-01-16","s":"BTC","v":115},{"d":"2025-01-17","s":"BTC","v":130},{"d":"2025-01-18","s":"BTC","v":135},{"d":"2025-01-20","s":"BTC","v":145}
]
},
"hconcat": [
{
"width": 339, "height": 412,
"title": {"text": "Bitcoin / U.S. Dollar · 1D · INDEX", "subtitle": ["M2 Global Liquidity Index [0] 96.81", "XAUUSD · OANDA"], "anchor": "start", "frame": "group", "orient": "top", "offset": -25, "dx": 3, "fontSize": 6.5, "subtitleFontSize": 6.5, "fontWeight": "normal", "color": "#a9a9a9", "subtitleColor": "#a9a9a9", "subtitlePadding": 1, "subtitleLineHeight": 7, "font": "Roboto", "subtitleFont": "Roboto"},
"encoding": {"x": {"field": "d", "type": "temporal", "title": null, "scale": {"domain": [{"year": 2023, "month": 12, "date": 4}, {"year": 2024, "month": 10, "date": 4}]}, "axis": {"ticks": false, "domain": false, "grid": false, "labelFontSize": 7, "labelColor": "#a0a0a0", "labelPadding": 5, "labelFlush": false, "labelOverlap": false, "tickCount": {"interval": "month", "step": 1}, "labelExpr": "month(datum.value) == 0 ? timeFormat(datum.value, '%Y') : timeFormat(datum.value, '%b')"}}},
"layer": [
{"data": {"name": "leftGrid"}, "mark": {"type": "rule", "color": "#d6d6d6", "strokeDash": [2, 2], "strokeWidth": 1}},
{"data": {"name": "left"}, "mark": {"type": "line", "strokeWidth": 1.1}, "encoding": {"y": {"field": "v", "type": "quantitative", "scale": {"domain": [-21, 1215]}, "axis": null}, "color": {"field": "s", "type": "nominal", "scale": {"domain": ["M2", "XAU", "BTC"], "range": ["#36a8c5", "#c8a73d", "#f6a33b"]}, "legend": null}}},
{"data": {"name": "leftTrend"}, "mark": {"type": "rule", "color": "#f8cfa6", "strokeWidth": 1}, "encoding": {"x2": {"field": "d2"}, "y": {"field": "v", "type": "quantitative", "scale": {"domain": [-21, 1215]}, "axis": null}, "y2": {"field": "v2"}}},
{"data": {"name": "divider"}, "mark": {"type": "rule", "color": "#262626", "strokeWidth": 3}, "encoding": {"y": {"datum": -60, "type": "quantitative", "scale": {"domain": [-21, 1215]}, "axis": null}, "y2": {"datum": 1215}}}
]
},
{
"width": 341, "height": 412,
"title": {"text": "Bitcoin / U.S. Dollar · 1D · INDEX", "subtitle": ["M2 Global Liquidity Index [0] 96.81", "XAUUSD · OANDA"], "anchor": "start", "frame": "group", "orient": "top", "offset": -25, "dx": 3, "fontSize": 6.5, "subtitleFontSize": 6.5, "fontWeight": "normal", "color": "#a9a9a9", "subtitleColor": "#a9a9a9", "subtitlePadding": 1, "subtitleLineHeight": 7, "font": "Roboto", "subtitleFont": "Roboto"},
"encoding": {"x": {"field": "d", "type": "temporal", "title": null, "scale": {"domain": [{"year": 2024, "month": 8, "date": 22, "hours": 12}, {"year": 2025, "month": 4, "date": 29}]}, "axis": {"ticks": false, "domain": false, "grid": false, "labelFontSize": 7, "labelColor": "#a0a0a0", "labelPadding": 5, "labelFlush": false, "labelOverlap": false, "tickCount": {"interval": "month", "step": 1}, "labelExpr": "month(datum.value) == 0 ? timeFormat(datum.value, '%Y') : timeFormat(datum.value, '%b')"}}},
"layer": [
{"data": {"name": "rightGrid"}, "mark": {"type": "rule", "color": "#d6d6d6", "strokeDash": [2, 2], "strokeWidth": 1}},
{"data": {"name": "right"}, "mark": {"type": "line", "strokeWidth": 1.1}, "encoding": {"y": {"field": "v", "type": "quantitative", "scale": {"domain": [-21, 1215]}, "axis": null}, "color": {"field": "s", "type": "nominal", "scale": {"domain": ["M2", "XAU", "BTC"], "range": ["#36a8c5", "#c8a73d", "#f6a33b"]}, "legend": null}}},
{"data": {"name": "rightTrend"}, "mark": {"type": "rule", "color": "#f8cfa6", "strokeWidth": 1}, "encoding": {"x2": {"field": "d2"}, "y": {"field": "v", "type": "quantitative", "scale": {"domain": [-21, 1215]}, "axis": null}, "y2": {"field": "v2"}}}
]
}
]
}
